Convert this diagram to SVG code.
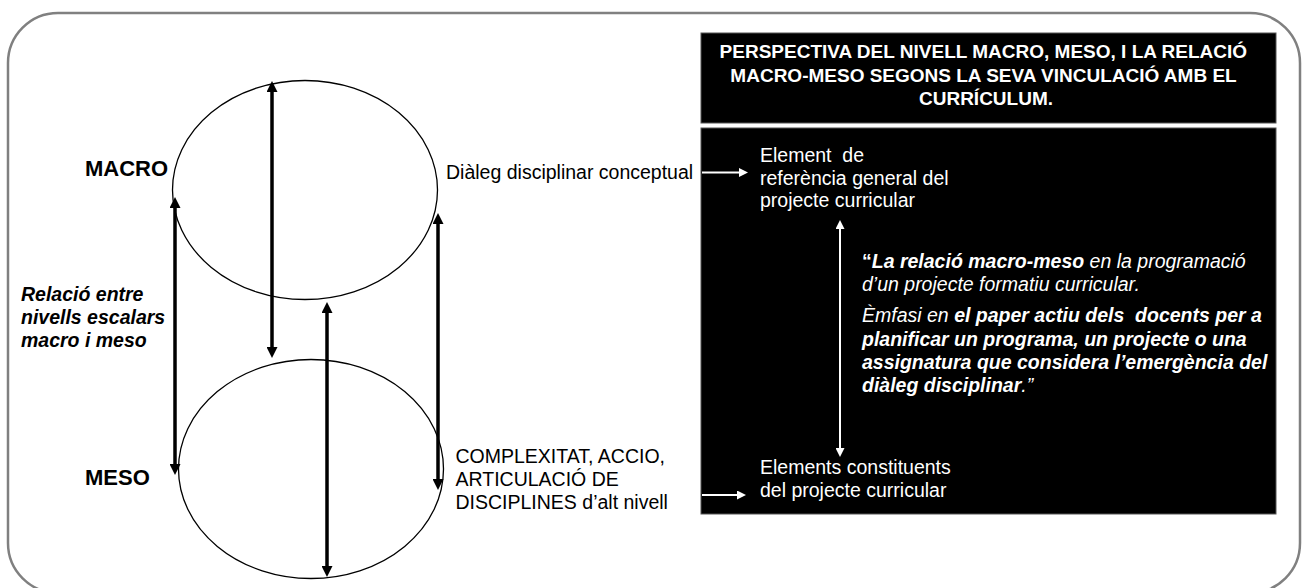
<svg xmlns="http://www.w3.org/2000/svg" width="1303" height="588" viewBox="0 0 1303 588">
  <style>
    .txt { font-family: "Liberation Sans", Arial, sans-serif; font-size: 19.5px; fill: #000; }
    .lvl { font-family: "Liberation Sans", Arial, sans-serif; font-size: 22px; font-weight: bold; fill: #000; }
    .wt { font-family: "Liberation Sans", Arial, sans-serif; font-size: 19.5px; fill: #fff; white-space: pre; }
    .hd { font-family: "Liberation Sans", Arial, sans-serif; font-size: 19px; font-weight: bold; fill: #fff; }
    .b { font-weight: bold; }
    .i { font-style: italic; }
    .ring { fill: none; stroke: #000; stroke-width: 1.3; }
    .blk { stroke: #000; stroke-width: 3.5; fill: none; marker-start: url(#headB); marker-end: url(#headB); }
    .wht { stroke: #fff; stroke-width: 2; fill: none; marker-end: url(#headW); }
    .wht2 { marker-start: url(#headW); }
    .panel { fill: #000; stroke: #555; stroke-width: 1; }
  </style>
  <defs>
    <marker id="headB" markerUnits="userSpaceOnUse" markerWidth="12" markerHeight="11" refX="3" refY="5.5" orient="auto-start-reverse">
      <path d="M0,0 L11,5.5 L0,11 z" fill="#000"/>
    </marker>
    <marker id="headW" markerUnits="userSpaceOnUse" markerWidth="10" markerHeight="9" refX="2" refY="4.5" orient="auto-start-reverse">
      <path d="M0,0 L9,4.5 L0,9 z" fill="#fff"/>
    </marker>
  </defs>

  <!-- outer frame -->
  <rect x="8" y="13" width="1292" height="580" rx="50" ry="50" fill="#fff" stroke="#808080" stroke-width="2.5"/>

  <!-- dark panels -->
  <g id="header">
    <rect class="panel" x="701" y="33" width="575" height="90"/>
    <text class="hd" text-anchor="middle">
      <tspan x="986" y="58">PERSPECTIVA DEL NIVELL MACRO, MESO, I LA RELACIÓ</tspan>
      <tspan x="986" y="81.5">MACRO-MESO SEGONS LA SEVA VINCULACIÓ AMB EL</tspan>
      <tspan x="986" y="105">CURRÍCULUM.</tspan>
    </text>
  </g>
  <g id="panel">
    <rect class="panel" x="701" y="128" width="575" height="386"/>
  </g>

  <!-- levels -->
  <g id="macro">
    <ellipse class="ring" cx="305" cy="190" rx="132.5" ry="109.5"/>
    <text class="lvl" x="85" y="176">MACRO</text>
  </g>
  <g id="meso">
    <ellipse class="ring" cx="311" cy="469" rx="132.5" ry="109.5"/>
    <text class="lvl" x="85" y="485">MESO</text>
  </g>
  <g id="relacio">
    <text class="txt b i">
      <tspan x="21" y="301">Relació entre</tspan>
      <tspan x="21" y="324">nivells escalars</tspan>
      <tspan x="21" y="346.5">macro i meso</tspan>
    </text>
  </g>
  <g id="dialeg">
    <text class="txt" x="446" y="179">Diàleg disciplinar conceptual</text>
  </g>
  <g id="complexitat">
    <text class="txt">
      <tspan x="455.5" y="463">COMPLEXITAT, ACCIO,</tspan>
      <tspan x="455.5" y="486">ARTICULACIÓ DE</tspan>
      <tspan x="455.5" y="509">DISCIPLINES d’alt nivell</tspan>
    </text>
  </g>
  <g id="referencia">
    <text class="wt">
      <tspan x="760" y="161.5">Element  de</tspan>
      <tspan x="760" y="184.5">referència general del</tspan>
      <tspan x="760" y="207">projecte curricular</tspan>
    </text>
  </g>
  <g id="constituents">
    <text class="wt">
      <tspan x="760" y="474">Elements constituents</tspan>
      <tspan x="760" y="497">del projecte curricular</tspan>
    </text>
  </g>
  <g id="cita">
    <text class="wt">
      <tspan x="862" y="268"><tspan class="b">“</tspan><tspan class="b i">La relació macro-meso</tspan><tspan class="i"> en la programació</tspan></tspan>
      <tspan x="862" y="291" class="i">d’un projecte formatiu curricular.</tspan>
      <tspan x="862" y="322"><tspan class="i">Èmfasi en </tspan><tspan class="b i">el paper actiu dels  docents per a</tspan></tspan>
      <tspan x="862" y="346" class="b i">planificar un programa, un projecte o una</tspan>
      <tspan x="862" y="369" class="b i">assignatura que considera l’emergència del</tspan>
      <tspan x="862" y="392"><tspan class="b i">diàleg disciplinar</tspan><tspan class="i">.”</tspan></tspan>
    </text>
  </g>

  <!-- connectors -->
  <g id="connectors">
    <line class="blk" x1="272" y1="89" x2="272" y2="350"/>
    <line class="blk" x1="175" y1="205" x2="175" y2="467"/>
    <line class="blk" x1="438" y1="221" x2="438" y2="482"/>
    <line class="blk" x1="327" y1="310" x2="327" y2="569"/>
    <line class="wht wht2" x1="840" y1="227" x2="840" y2="450"/>
    <line class="wht" x1="702" y1="172.5" x2="741" y2="172.5"/>
    <line class="wht" x1="702" y1="495" x2="739" y2="495"/>
  </g>
</svg>
